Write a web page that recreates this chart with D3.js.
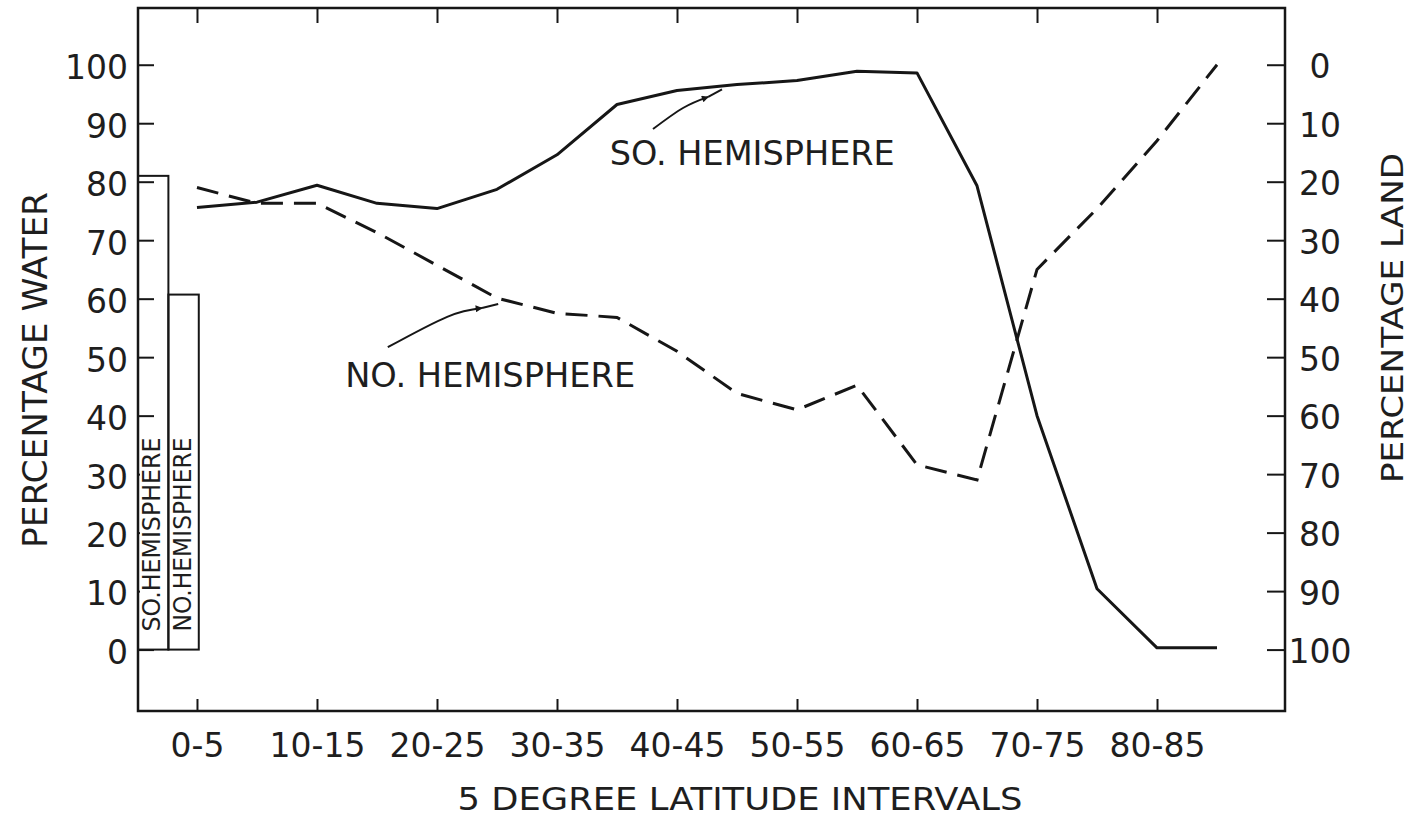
<!DOCTYPE html>
<html>
<head>
<meta charset="utf-8">
<script src="https://cdn.jsdelivr.net/npm/d3@7"></script>
<style>
body { margin: 0; background: #fff; }
svg text { font-family: "DejaVu Sans", sans-serif; fill: #1e1e1e; }
</style>
</head>
<body>
<script>
// 5 degree latitude intervals (one point per interval)
const intervals = ["0-5","5-10","10-15","15-20","20-25","25-30","30-35","35-40","40-45",
  "45-50","50-55","55-60","60-65","65-70","70-75","75-80","80-85","85-90"];
// percentage water, southern hemisphere (solid)
const soWater = [75.6, 76.5, 79.4, 76.3, 75.4, 78.7, 84.6, 93.2, 95.6,
  96.6, 97.3, 98.9, 98.6, 79.3, 40.0, 10.4, 0.3, 0.3];
// percentage water, northern hemisphere (dashed)
const noWater = [79.0, 76.3, 76.3, 71.3, 65.7, 60.1, 57.5, 56.8, 51.0,
  43.8, 41.0, 45.2, 31.6, 29.0, 65.0, 75.4, 87.0, 100.0];
// whole hemisphere totals (bars at left)
const hemiNames = ["SO.HEMISPHERE", "NO.HEMISPHERE"];
const hemiWater = [81.0, 60.7];
const waterTicks = [0, 10, 20, 30, 40, 50, 60, 70, 80, 90, 100];
const landTicks = [0, 10, 20, 30, 40, 50, 60, 70, 80, 90, 100];
const labelEvery = 2;

const width = 1410, height = 818;
const margin = {left: 138, top: 8, right: 125, bottom: 107};

const svg = d3.select("body").append("svg")
  .attr("width", width)
  .attr("height", height);

const x = d3.scaleLinear()
  .domain([-0.983, 18.133])
  .range([margin.left, width - margin.right]);
const y = d3.scaleLinear()
  .domain([-10.5, 109.7])
  .range([height - margin.bottom, margin.top]);
const yLand = d3.scaleLinear()
  .domain([100 - y.domain()[0], 100 - y.domain()[1]])
  .range(y.range());

const ink = "#161616";

function styleAxis(g){
  g.select(".domain").remove();
  g.selectAll(".tick line").attr("stroke", ink).attr("stroke-width", 2);
  g.selectAll(".tick text").attr("fill", "#1e1e1e");
}

const xTicks = d3.range(0, intervals.length - 1, labelEvery);

const bottomAxis = svg.append("g")
  .attr("transform", `translate(0,${y.range()[0]})`)
  .call(d3.axisBottom(x).tickValues(xTicks).tickFormat(i => intervals[i])
    .tickSizeInner(-12).tickSizeOuter(0).tickPadding(23))
  .call(styleAxis);
bottomAxis.selectAll(".tick text").attr("font-size", 33);

svg.append("g")
  .attr("transform", `translate(0,${y.range()[1]})`)
  .call(d3.axisTop(x).tickValues(xTicks).tickFormat("")
    .tickSizeInner(-15).tickSizeOuter(0))
  .call(styleAxis);

const leftAxis = svg.append("g")
  .attr("transform", `translate(${x.range()[0]},0)`)
  .call(d3.axisLeft(y).tickValues(waterTicks)
    .tickSizeInner(-16).tickSizeOuter(0).tickPadding(10))
  .call(styleAxis);
leftAxis.selectAll(".tick text").attr("font-size", 33).attr("dy", "0.42em");

const rightAxis = svg.append("g")
  .attr("transform", `translate(${x.range()[1]},0)`)
  .call(d3.axisRight(yLand).tickValues(landTicks)
    .tickSizeInner(-18).tickSizeOuter(0).tickPadding(35))
  .call(styleAxis);
rightAxis.selectAll(".tick text").attr("font-size", 33)
  .attr("text-anchor", "middle").attr("dy", "0.4em");

// axis titles
svg.append("text")
  .attr("transform", `translate(47,370) rotate(-90)`)
  .attr("text-anchor", "middle")
  .attr("font-size", 34)
  .attr("textLength", 356)
  .attr("lengthAdjust", "spacingAndGlyphs")
  .text("PERCENTAGE WATER");

svg.append("text")
  .attr("transform", `translate(1403,318) rotate(-90)`)
  .attr("text-anchor", "middle")
  .attr("font-size", 31)
  .attr("textLength", 330)
  .attr("lengthAdjust", "spacingAndGlyphs")
  .text("PERCENTAGE LAND");

svg.append("text")
  .attr("x", 740)
  .attr("y", 810)
  .attr("text-anchor", "middle")
  .attr("font-size", 32)
  .attr("textLength", 565)
  .attr("lengthAdjust", "spacingAndGlyphs")
  .text("5 DEGREE LATITUDE INTERVALS");

// hemisphere total bars
const band = d3.scaleBand()
  .domain(hemiNames)
  .range([x.range()[0], x(0.03)]);

const bars = svg.append("g");
bars.selectAll("rect.bar")
  .data(hemiNames)
  .enter()
  .append("rect")
  .attr("class", "bar")
  .attr("x", d => band(d))
  .attr("y", (d, i) => y(hemiWater[i]))
  .attr("width", band.bandwidth())
  .attr("height", (d, i) => y(0) - y(hemiWater[i]))
  .attr("fill", "none")
  .attr("stroke", ink)
  .attr("stroke-width", 2);

const barText = bars.selectAll("text")
  .data(hemiNames)
  .enter()
  .append("text")
  .attr("transform", d => `translate(${band(d) + band.bandwidth() / 2 - 2},${y(0) - 18}) rotate(-90)`)
  .attr("dy", "0.36em")
  .attr("font-size", 25)
  .attr("textLength", 194)
  .attr("lengthAdjust", "spacingAndGlyphs")
  .text(d => d);

// the label in the first bar hides the water ticks behind it
const firstBox = barText.node().getBBox();
bars.insert("rect", "text")
  .attr("x", x.range()[0] + 2)
  .attr("y", y(0) - 18 - firstBox.width - 4)
  .attr("width", band.bandwidth() - 4)
  .attr("height", firstBox.width + 8)
  .attr("fill", "#fff");

// frame
svg.append("rect")
  .attr("x", x.range()[0])
  .attr("y", y.range()[1])
  .attr("width", x.range()[1] - x.range()[0])
  .attr("height", y.range()[0] - y.range()[1])
  .attr("fill", "none")
  .attr("stroke", ink)
  .attr("stroke-width", 2.5);

// the two hemisphere curves
const line = d3.line()
  .x((d, i) => x(i))
  .y(d => y(d));

svg.append("path")
  .datum(soWater)
  .attr("d", line)
  .attr("fill", "none")
  .attr("stroke", ink)
  .attr("stroke-width", 3)
  .attr("stroke-linejoin", "round");

svg.append("path")
  .datum(noWater)
  .attr("d", line)
  .attr("fill", "none")
  .attr("stroke", ink)
  .attr("stroke-width", 3)
  .attr("stroke-dasharray", "22,11");

// labels with leader arrows (positions in interval index / water %)
svg.append("defs").append("marker")
  .attr("id", "head")
  .attr("viewBox", "0 0 10 10")
  .attr("refX", 9).attr("refY", 5)
  .attr("markerWidth", 11).attr("markerHeight", 7)
  .attr("markerUnits", "userSpaceOnUse")
  .attr("orient", "auto")
  .append("path")
  .attr("d", "M0,0L10,5L0,10Z")
  .attr("fill", ink);

const labels = [
  {text: "SO. HEMISPHERE", at: [6.88, 82.85], len: 285,
    curve: [[7.60, 89.0], [8.10, 92.6], [8.52, 94.5]], tail: [8.75, 95.8]},
  {text: "NO. HEMISPHERE", at: [2.47, 44.9], len: 290,
    curve: [[3.18, 51.7], [4.17, 56.9], [4.75, 58.4]], tail: [5.02, 59.1]}
];

const leader = d3.line()
  .x(d => x(d[0]))
  .y(d => y(d[1]))
  .curve(d3.curveNatural);

labels.forEach(l => {
  svg.append("text")
    .attr("x", x(l.at[0]))
    .attr("y", y(l.at[1]))
    .attr("font-size", 33)
    .attr("textLength", l.len)
    .attr("lengthAdjust", "spacingAndGlyphs")
    .text(l.text);
  svg.append("path")
    .attr("d", leader(l.curve))
    .attr("fill", "none")
    .attr("stroke", ink)
    .attr("stroke-width", 2)
    .attr("marker-end", "url(#head)");
  const last = l.curve[l.curve.length - 1];
  svg.append("path")
    .attr("d", leader([last, l.tail]))
    .attr("fill", "none")
    .attr("stroke", ink)
    .attr("stroke-width", 2);
});
</script>
</body>
</html>
